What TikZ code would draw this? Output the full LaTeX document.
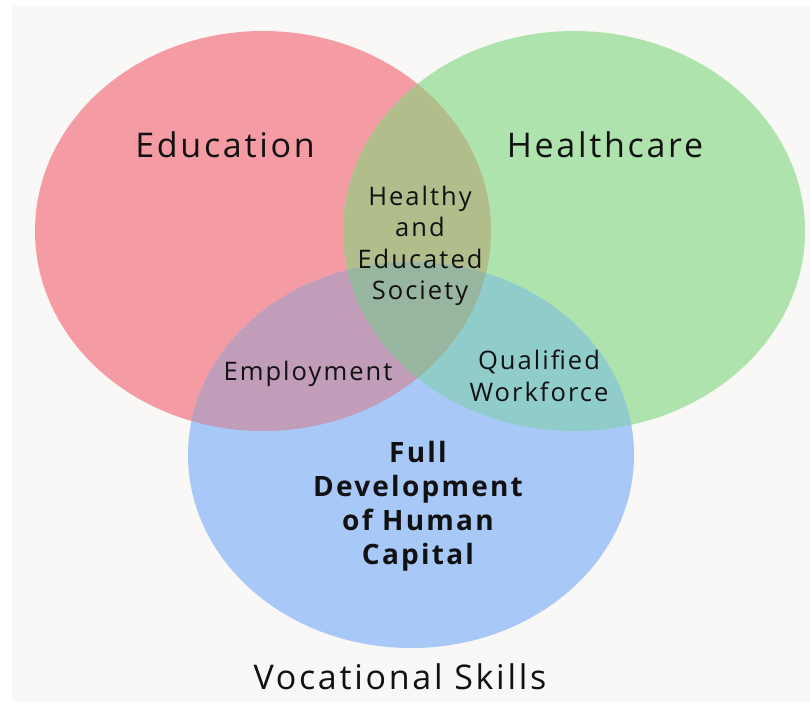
\documentclass[tikz,border=0pt]{standalone}
\usepackage{fontspec}
\setmainfont{Open Sans}
\usepackage{tikz}

\definecolor{bgcol}{HTML}{F9F8F7}
\definecolor{educol}{HTML}{F49BA4}
\definecolor{healcol}{HTML}{AFE3AD}
\definecolor{voccol}{HTML}{A8C8F8}
\definecolor{eduheal}{HTML}{B2BD8C}
\definecolor{eduvoc}{HTML}{C19DB9}
\definecolor{healvoc}{HTML}{90CDCA}
\definecolor{allcol}{HTML}{98B69F}
\definecolor{txtcol}{HTML}{111111}

\newfontfamily\spacedfont[LetterSpace=8]{Open Sans}

\tikzset{
  biglabel/.style={text=txtcol,font=\spacedfont\fontsize{34}{40}\selectfont},
  midlabel/.style={text=txtcol,align=center,font=\spacedfont\fontsize{25.5}{31.5}\selectfont},
  corelabel/.style={text=txtcol,align=center,font=\spacedfont\bfseries\fontsize{28}{34}\selectfont}
}

\begin{document}
\begin{tikzpicture}[x=1pt,y=-1pt]
                \useasboundingbox (0,0) rectangle (810,702);
                \fill[white] (0,0) rectangle (810,702);
                \fill[bgcol] (12,6) rectangle (810,702);
                % the three sets
                \fill[educol] (263,231) ellipse [x radius=228, y radius=200];
                \fill[healcol] (574,231) ellipse [x radius=231, y radius=200];
                \fill[voccol] (411,455) ellipse [x radius=223, y radius=193];
                % overlaps
                \begin{scope}
                    \clip (263,231) ellipse [x radius=228, y radius=200];
                    \fill[eduheal] (574,231) ellipse [x radius=231, y radius=200];
                    \fill[eduvoc] (411,455) ellipse [x radius=223, y radius=193];
                \end{scope}
                \begin{scope}
                    \clip (574,231) ellipse [x radius=231, y radius=200];
                    \fill[healvoc] (411,455) ellipse [x radius=223, y radius=193];
                    \clip (263,231) ellipse [x radius=228, y radius=200];
                    \fill[allcol] (411,455) ellipse [x radius=223, y radius=193];
                \end{scope}
                % labels
                \node[biglabel] (edu) at (225,145) {Education};
                \node[biglabel] (heal) at (605,145) {Healthcare};
                \node[midlabel] (society) at (420,246) {Healthy\\and\\Educated\\Society};
                \node[midlabel] (employ) at (308,374) {Employment};
                \node[midlabel] (workforce) at (539,376) {Qualified\\Workforce};
                \node[corelabel] (capital) at (418,506) {Full\\Development\\of Human\\Capital};
                \node[biglabel] (voc) at (400,677) {Vocational Skills};
            \end{tikzpicture}
\end{document}
